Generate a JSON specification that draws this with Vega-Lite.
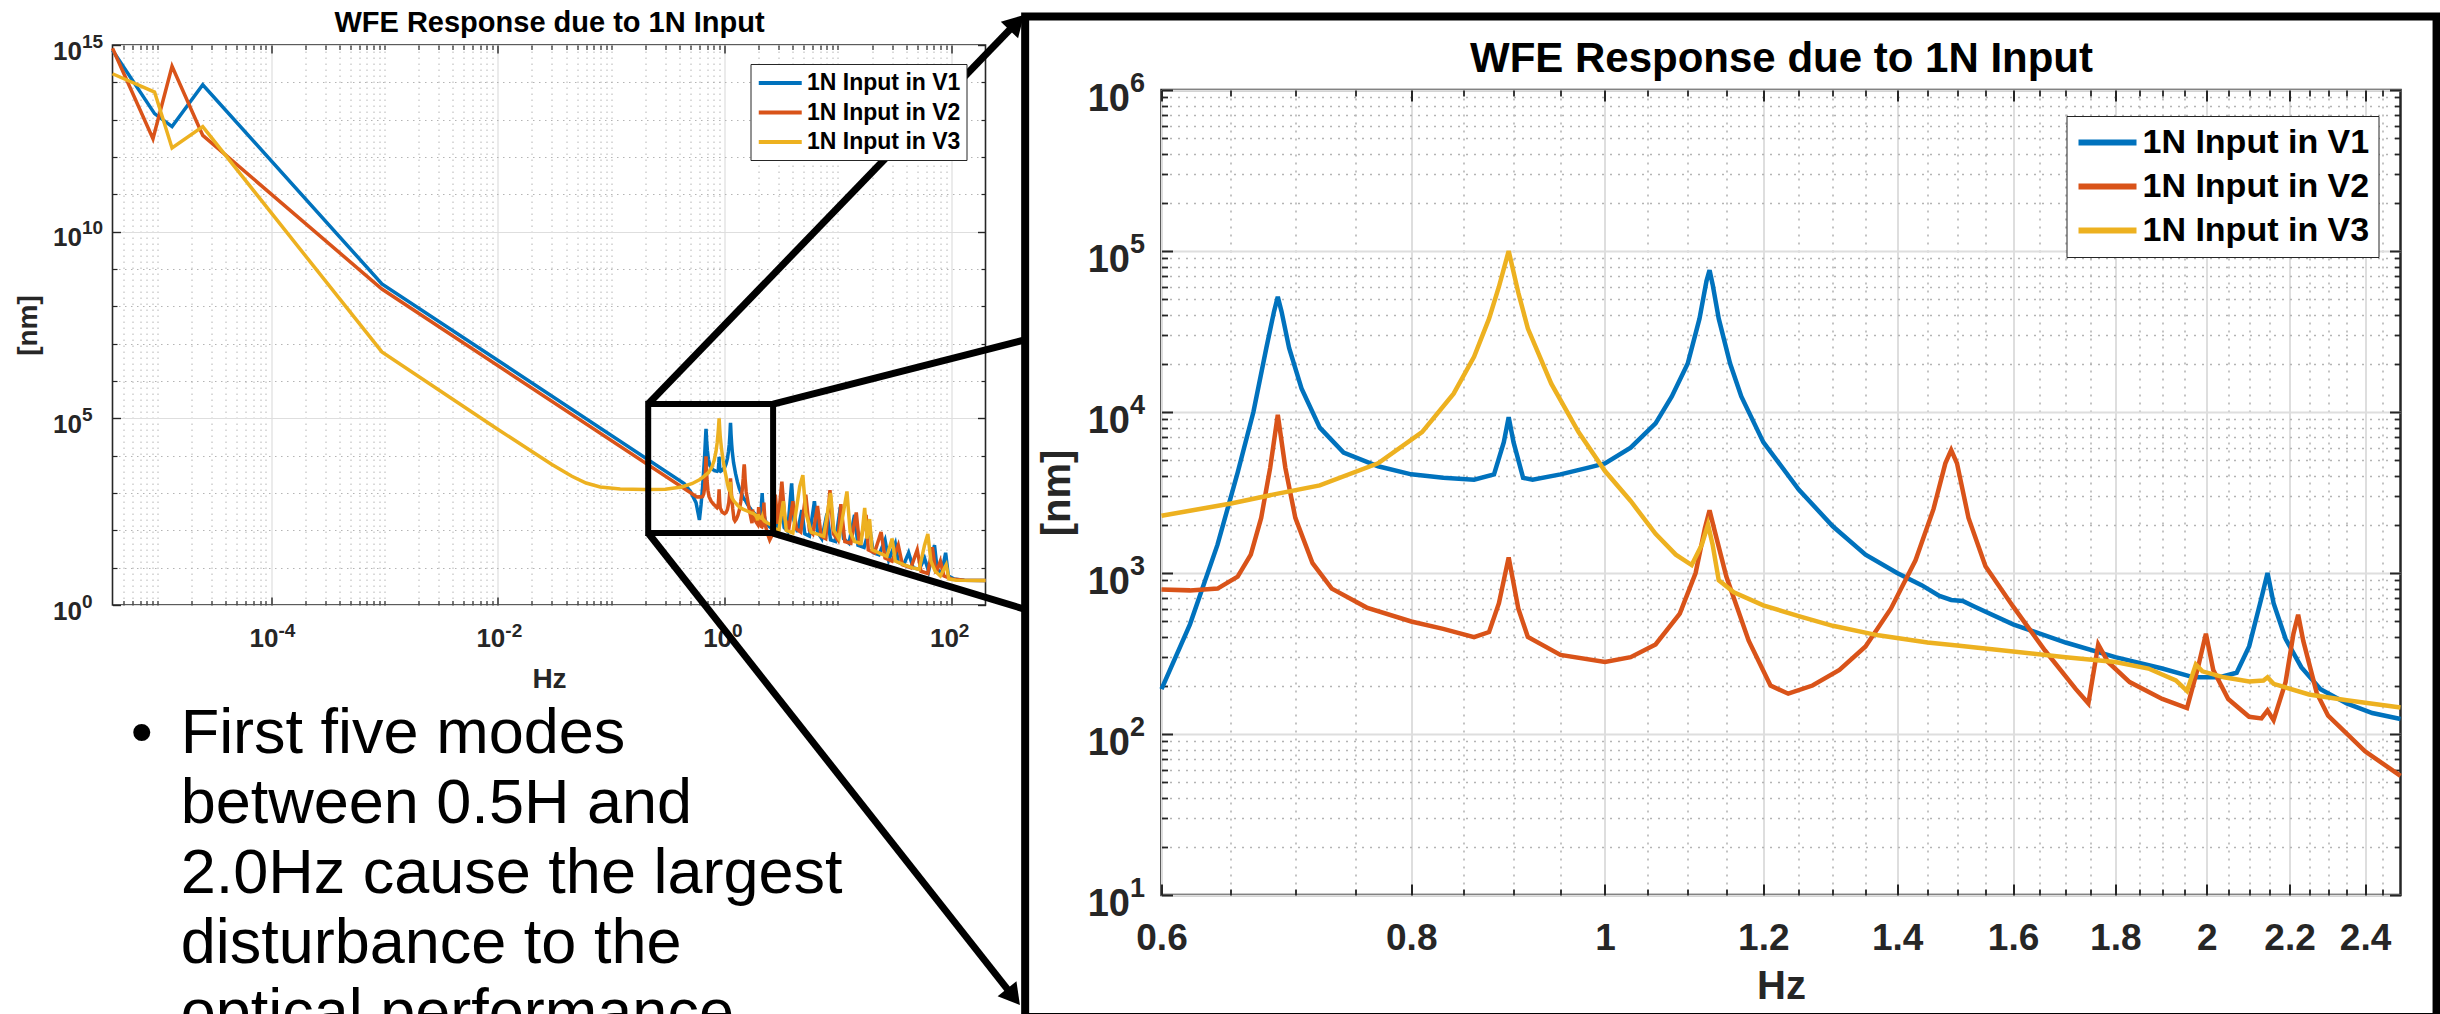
{
  "$schema": "https://vega.github.io/schema/vega-lite/v6.json",
  "background": "white",
  "padding": {"left": 12.5, "top": 7, "right": 0, "bottom": 0},
  "config": {
    "view": {"stroke": null},
    "font": "Liberation Sans",
    "axis": {
      "domain": false,
      "labelFont": "Liberation Sans",
      "titleFont": "Liberation Sans",
      "labelFontWeight": "bold",
      "titleFontWeight": "bold",
      "labelColor": "#262626",
      "titleColor": "#262626",
      "tickColor": "#262626",
      "labelFlush": false,
      "labelOverlap": false,
      "labelBound": false
    },
    "legend": {
      "labelFont": "Liberation Sans",
      "labelFontWeight": "bold",
      "labelColor": "black",
      "labelLimit": 400,
      "fillColor": "white",
      "orient": "none",
      "symbolType": "M-1,0L3,0"
    }
  },
  "datasets": {
    "spectrum": [
      {"s":"V1","hz":4e-6,"nm":7.2e14},
      {"s":"V1","hz":9.4e-6,"nm":1.45e13},
      {"s":"V1","hz":1.34e-5,"nm":6.5e12},
      {"s":"V1","hz":2.5e-5,"nm":8.6e13},
      {"s":"V1","hz":9.5e-4,"nm":4e8},
      {"s":"V1","hz":0.44,"nm":1800},
      {"s":"V1","hz":0.5,"nm":1100},
      {"s":"V1","hz":0.56,"nm":550},
      {"s":"V1","hz":0.6,"nm":190},
      {"s":"V1","hz":0.62,"nm":480},
      {"s":"V1","hz":0.64,"nm":1500},
      {"s":"V1","hz":0.655,"nm":4200},
      {"s":"V1","hz":0.667,"nm":10000},
      {"s":"V1","hz":0.677,"nm":25000},
      {"s":"V1","hz":0.683,"nm":42000},
      {"s":"V1","hz":0.686,"nm":52000},
      {"s":"V1","hz":0.689,"nm":42000},
      {"s":"V1","hz":0.695,"nm":25000},
      {"s":"V1","hz":0.705,"nm":14000},
      {"s":"V1","hz":0.72,"nm":8000},
      {"s":"V1","hz":0.74,"nm":5600},
      {"s":"V1","hz":0.77,"nm":4600},
      {"s":"V1","hz":0.8,"nm":4100},
      {"s":"V1","hz":0.83,"nm":3900},
      {"s":"V1","hz":0.86,"nm":3800},
      {"s":"V1","hz":0.88,"nm":4100},
      {"s":"V1","hz":0.89,"nm":6500},
      {"s":"V1","hz":0.895,"nm":9300},
      {"s":"V1","hz":0.9,"nm":6500},
      {"s":"V1","hz":0.91,"nm":3900},
      {"s":"V1","hz":0.92,"nm":3800},
      {"s":"V1","hz":0.95,"nm":4100},
      {"s":"V1","hz":0.98,"nm":4500},
      {"s":"V1","hz":1.0,"nm":4800},
      {"s":"V1","hz":1.03,"nm":6000},
      {"s":"V1","hz":1.06,"nm":8500},
      {"s":"V1","hz":1.08,"nm":12500},
      {"s":"V1","hz":1.1,"nm":20000},
      {"s":"V1","hz":1.115,"nm":38000},
      {"s":"V1","hz":1.124,"nm":65000},
      {"s":"V1","hz":1.128,"nm":76000},
      {"s":"V1","hz":1.132,"nm":62000},
      {"s":"V1","hz":1.14,"nm":38000},
      {"s":"V1","hz":1.155,"nm":20000},
      {"s":"V1","hz":1.17,"nm":12500},
      {"s":"V1","hz":1.2,"nm":6500},
      {"s":"V1","hz":1.25,"nm":3300},
      {"s":"V1","hz":1.3,"nm":1950},
      {"s":"V1","hz":1.35,"nm":1300},
      {"s":"V1","hz":1.4,"nm":1000},
      {"s":"V1","hz":1.44,"nm":840},
      {"s":"V1","hz":1.47,"nm":720},
      {"s":"V1","hz":1.49,"nm":680},
      {"s":"V1","hz":1.51,"nm":670},
      {"s":"V1","hz":1.53,"nm":620},
      {"s":"V1","hz":1.6,"nm":480},
      {"s":"V1","hz":1.7,"nm":370},
      {"s":"V1","hz":1.8,"nm":300},
      {"s":"V1","hz":1.9,"nm":255},
      {"s":"V1","hz":1.97,"nm":225},
      {"s":"V1","hz":2.03,"nm":225},
      {"s":"V1","hz":2.07,"nm":240},
      {"s":"V1","hz":2.1,"nm":350},
      {"s":"V1","hz":2.13,"nm":700},
      {"s":"V1","hz":2.145,"nm":1000},
      {"s":"V1","hz":2.16,"nm":650},
      {"s":"V1","hz":2.19,"nm":390},
      {"s":"V1","hz":2.23,"nm":260},
      {"s":"V1","hz":2.28,"nm":190},
      {"s":"V1","hz":2.35,"nm":155},
      {"s":"V1","hz":2.42,"nm":135},
      {"s":"V1","hz":2.5,"nm":124},
      {"s":"V1","hz":2.6,"nm":140},
      {"s":"V1","hz":2.75,"nm":420},
      {"s":"V1","hz":2.85,"nm":150},
      {"s":"V1","hz":3.0,"nm":110},
      {"s":"V1","hz":3.2,"nm":480},
      {"s":"V1","hz":3.35,"nm":120},
      {"s":"V1","hz":3.6,"nm":95},
      {"s":"V1","hz":3.9,"nm":1800},
      {"s":"V1","hz":4.1,"nm":180},
      {"s":"V1","hz":4.4,"nm":90},
      {"s":"V1","hz":4.8,"nm":350},
      {"s":"V1","hz":5.1,"nm":80},
      {"s":"V1","hz":5.6,"nm":70},
      {"s":"V1","hz":6.2,"nm":600},
      {"s":"V1","hz":6.6,"nm":90},
      {"s":"V1","hz":7.2,"nm":60},
      {"s":"V1","hz":8.0,"nm":280},
      {"s":"V1","hz":8.6,"nm":55},
      {"s":"V1","hz":9.5,"nm":50},
      {"s":"V1","hz":10.5,"nm":420},
      {"s":"V1","hz":11.2,"nm":60},
      {"s":"V1","hz":12.5,"nm":45},
      {"s":"V1","hz":14,"nm":260},
      {"s":"V1","hz":15,"nm":40},
      {"s":"V1","hz":17,"nm":35},
      {"s":"V1","hz":19,"nm":120},
      {"s":"V1","hz":20.5,"nm":25},
      {"s":"V1","hz":23,"nm":22},
      {"s":"V1","hz":26,"nm":55},
      {"s":"V1","hz":28,"nm":16},
      {"s":"V1","hz":32,"nm":45},
      {"s":"V1","hz":34,"nm":14},
      {"s":"V1","hz":38,"nm":12},
      {"s":"V1","hz":42,"nm":25},
      {"s":"V1","hz":46,"nm":10},
      {"s":"V1","hz":52,"nm":9},
      {"s":"V1","hz":58,"nm":18},
      {"s":"V1","hz":63,"nm":8},
      {"s":"V1","hz":71,"nm":40},
      {"s":"V1","hz":75,"nm":9},
      {"s":"V1","hz":82,"nm":7},
      {"s":"V1","hz":89,"nm":25},
      {"s":"V1","hz":94,"nm":6},
      {"s":"V1","hz":105,"nm":5},
      {"s":"V1","hz":130,"nm":4.6},
      {"s":"V1","hz":200,"nm":4.5},

      {"s":"V2","hz":4e-6,"nm":8.2e14},
      {"s":"V2","hz":9.1e-6,"nm":3.1e12},
      {"s":"V2","hz":1.34e-5,"nm":2.7e14},
      {"s":"V2","hz":2.5e-5,"nm":3.8e12},
      {"s":"V2","hz":9.5e-4,"nm":2.9e8},
      {"s":"V2","hz":0.57,"nm":780},
      {"s":"V2","hz":0.6,"nm":790},
      {"s":"V2","hz":0.62,"nm":780},
      {"s":"V2","hz":0.64,"nm":800},
      {"s":"V2","hz":0.655,"nm":950},
      {"s":"V2","hz":0.665,"nm":1300},
      {"s":"V2","hz":0.673,"nm":2200},
      {"s":"V2","hz":0.68,"nm":4500},
      {"s":"V2","hz":0.686,"nm":9600},
      {"s":"V2","hz":0.692,"nm":4500},
      {"s":"V2","hz":0.7,"nm":2200},
      {"s":"V2","hz":0.714,"nm":1150},
      {"s":"V2","hz":0.73,"nm":800},
      {"s":"V2","hz":0.76,"nm":610},
      {"s":"V2","hz":0.8,"nm":500},
      {"s":"V2","hz":0.83,"nm":450},
      {"s":"V2","hz":0.86,"nm":400},
      {"s":"V2","hz":0.875,"nm":430},
      {"s":"V2","hz":0.885,"nm":650},
      {"s":"V2","hz":0.895,"nm":1250},
      {"s":"V2","hz":0.905,"nm":600},
      {"s":"V2","hz":0.915,"nm":400},
      {"s":"V2","hz":0.95,"nm":310},
      {"s":"V2","hz":1.0,"nm":280},
      {"s":"V2","hz":1.03,"nm":300},
      {"s":"V2","hz":1.06,"nm":360},
      {"s":"V2","hz":1.09,"nm":560},
      {"s":"V2","hz":1.11,"nm":1000},
      {"s":"V2","hz":1.122,"nm":1900},
      {"s":"V2","hz":1.128,"nm":2450},
      {"s":"V2","hz":1.135,"nm":1800},
      {"s":"V2","hz":1.15,"nm":950},
      {"s":"V2","hz":1.18,"nm":380},
      {"s":"V2","hz":1.21,"nm":200},
      {"s":"V2","hz":1.235,"nm":178},
      {"s":"V2","hz":1.27,"nm":200},
      {"s":"V2","hz":1.31,"nm":250},
      {"s":"V2","hz":1.35,"nm":350},
      {"s":"V2","hz":1.39,"nm":600},
      {"s":"V2","hz":1.43,"nm":1200},
      {"s":"V2","hz":1.46,"nm":2500},
      {"s":"V2","hz":1.48,"nm":4800},
      {"s":"V2","hz":1.49,"nm":5800},
      {"s":"V2","hz":1.5,"nm":4800},
      {"s":"V2","hz":1.52,"nm":2200},
      {"s":"V2","hz":1.55,"nm":1100},
      {"s":"V2","hz":1.6,"nm":620},
      {"s":"V2","hz":1.66,"nm":330},
      {"s":"V2","hz":1.72,"nm":190},
      {"s":"V2","hz":1.745,"nm":155},
      {"s":"V2","hz":1.765,"nm":360},
      {"s":"V2","hz":1.785,"nm":280},
      {"s":"V2","hz":1.83,"nm":210},
      {"s":"V2","hz":1.9,"nm":165},
      {"s":"V2","hz":1.955,"nm":145},
      {"s":"V2","hz":1.98,"nm":260},
      {"s":"V2","hz":1.998,"nm":420},
      {"s":"V2","hz":2.015,"nm":250},
      {"s":"V2","hz":2.05,"nm":165},
      {"s":"V2","hz":2.1,"nm":128},
      {"s":"V2","hz":2.13,"nm":125},
      {"s":"V2","hz":2.145,"nm":140},
      {"s":"V2","hz":2.16,"nm":122},
      {"s":"V2","hz":2.19,"nm":210},
      {"s":"V2","hz":2.21,"nm":420},
      {"s":"V2","hz":2.222,"nm":550},
      {"s":"V2","hz":2.235,"nm":380},
      {"s":"V2","hz":2.27,"nm":180},
      {"s":"V2","hz":2.3,"nm":130},
      {"s":"V2","hz":2.4,"nm":78},
      {"s":"V2","hz":2.5,"nm":55},
      {"s":"V2","hz":2.6,"nm":70},
      {"s":"V2","hz":2.8,"nm":900},
      {"s":"V2","hz":2.95,"nm":150},
      {"s":"V2","hz":3.2,"nm":2000},
      {"s":"V2","hz":3.4,"nm":200},
      {"s":"V2","hz":3.7,"nm":120},
      {"s":"V2","hz":4.0,"nm":600},
      {"s":"V2","hz":4.3,"nm":110},
      {"s":"V2","hz":4.7,"nm":90},
      {"s":"V2","hz":5.2,"nm":900},
      {"s":"V2","hz":5.6,"nm":100},
      {"s":"V2","hz":6.0,"nm":80},
      {"s":"V2","hz":6.6,"nm":450},
      {"s":"V2","hz":7.1,"nm":70},
      {"s":"V2","hz":7.8,"nm":60},
      {"s":"V2","hz":8.5,"nm":1200},
      {"s":"V2","hz":9.1,"nm":80},
      {"s":"V2","hz":10,"nm":55},
      {"s":"V2","hz":10.6,"nm":500},
      {"s":"V2","hz":11.5,"nm":50},
      {"s":"V2","hz":13,"nm":45},
      {"s":"V2","hz":14.5,"nm":300},
      {"s":"V2","hz":15.5,"nm":40},
      {"s":"V2","hz":17.7,"nm":260},
      {"s":"V2","hz":18.5,"nm":30},
      {"s":"V2","hz":21,"nm":25},
      {"s":"V2","hz":24,"nm":90},
      {"s":"V2","hz":26,"nm":18},
      {"s":"V2","hz":30,"nm":15},
      {"s":"V2","hz":34,"nm":40},
      {"s":"V2","hz":37,"nm":12},
      {"s":"V2","hz":44,"nm":10},
      {"s":"V2","hz":50,"nm":30},
      {"s":"V2","hz":54,"nm":8},
      {"s":"V2","hz":62,"nm":7},
      {"s":"V2","hz":68,"nm":35},
      {"s":"V2","hz":73,"nm":7},
      {"s":"V2","hz":80,"nm":15},
      {"s":"V2","hz":86,"nm":6},
      {"s":"V2","hz":100,"nm":5},
      {"s":"V2","hz":130,"nm":4.6},
      {"s":"V2","hz":200,"nm":4.5},

      {"s":"V3","hz":4e-6,"nm":1.7e14},
      {"s":"V3","hz":9.4e-6,"nm":5.5e13},
      {"s":"V3","hz":1.34e-5,"nm":1.74e12},
      {"s":"V3","hz":2.5e-5,"nm":6.5e12},
      {"s":"V3","hz":9.5e-4,"nm":6e6},
      {"s":"V3","hz":0.0096,"nm":55000},
      {"s":"V3","hz":0.02,"nm":13000},
      {"s":"V3","hz":0.03,"nm":5800},
      {"s":"V3","hz":0.045,"nm":2800},
      {"s":"V3","hz":0.06,"nm":1850},
      {"s":"V3","hz":0.08,"nm":1450},
      {"s":"V3","hz":0.12,"nm":1280},
      {"s":"V3","hz":0.2,"nm":1240},
      {"s":"V3","hz":0.3,"nm":1260},
      {"s":"V3","hz":0.42,"nm":1450},
      {"s":"V3","hz":0.52,"nm":1800},
      {"s":"V3","hz":0.6,"nm":2270},
      {"s":"V3","hz":0.65,"nm":2700},
      {"s":"V3","hz":0.685,"nm":3100},
      {"s":"V3","hz":0.72,"nm":3500},
      {"s":"V3","hz":0.77,"nm":4800},
      {"s":"V3","hz":0.81,"nm":7500},
      {"s":"V3","hz":0.84,"nm":13000},
      {"s":"V3","hz":0.86,"nm":22000},
      {"s":"V3","hz":0.875,"nm":38000},
      {"s":"V3","hz":0.885,"nm":60000},
      {"s":"V3","hz":0.895,"nm":100000},
      {"s":"V3","hz":0.905,"nm":55000},
      {"s":"V3","hz":0.915,"nm":33000},
      {"s":"V3","hz":0.94,"nm":15000},
      {"s":"V3","hz":0.97,"nm":7500},
      {"s":"V3","hz":1.0,"nm":4300},
      {"s":"V3","hz":1.03,"nm":2800},
      {"s":"V3","hz":1.06,"nm":1750},
      {"s":"V3","hz":1.085,"nm":1300},
      {"s":"V3","hz":1.105,"nm":1120},
      {"s":"V3","hz":1.118,"nm":1500},
      {"s":"V3","hz":1.126,"nm":2000},
      {"s":"V3","hz":1.132,"nm":1500},
      {"s":"V3","hz":1.14,"nm":900},
      {"s":"V3","hz":1.16,"nm":760},
      {"s":"V3","hz":1.2,"nm":630},
      {"s":"V3","hz":1.25,"nm":540},
      {"s":"V3","hz":1.3,"nm":470},
      {"s":"V3","hz":1.37,"nm":410},
      {"s":"V3","hz":1.45,"nm":370},
      {"s":"V3","hz":1.5,"nm":355},
      {"s":"V3","hz":1.6,"nm":325},
      {"s":"V3","hz":1.7,"nm":300},
      {"s":"V3","hz":1.8,"nm":280},
      {"s":"V3","hz":1.87,"nm":255},
      {"s":"V3","hz":1.93,"nm":215},
      {"s":"V3","hz":1.955,"nm":185},
      {"s":"V3","hz":1.975,"nm":270},
      {"s":"V3","hz":1.99,"nm":245},
      {"s":"V3","hz":2.04,"nm":225},
      {"s":"V3","hz":2.1,"nm":212},
      {"s":"V3","hz":2.135,"nm":215},
      {"s":"V3","hz":2.145,"nm":225},
      {"s":"V3","hz":2.16,"nm":205},
      {"s":"V3","hz":2.25,"nm":176},
      {"s":"V3","hz":2.35,"nm":162},
      {"s":"V3","hz":2.5,"nm":146},
      {"s":"V3","hz":2.6,"nm":140},
      {"s":"V3","hz":2.8,"nm":110},
      {"s":"V3","hz":3.0,"nm":95},
      {"s":"V3","hz":3.3,"nm":600},
      {"s":"V3","hz":3.5,"nm":100},
      {"s":"V3","hz":4.0,"nm":85},
      {"s":"V3","hz":4.6,"nm":1500},
      {"s":"V3","hz":4.9,"nm":3000},
      {"s":"V3","hz":5.2,"nm":300},
      {"s":"V3","hz":5.8,"nm":90},
      {"s":"V3","hz":6.5,"nm":80},
      {"s":"V3","hz":7.5,"nm":70},
      {"s":"V3","hz":8.6,"nm":1000},
      {"s":"V3","hz":9.2,"nm":100},
      {"s":"V3","hz":10.2,"nm":60},
      {"s":"V3","hz":12,"nm":1100},
      {"s":"V3","hz":12.8,"nm":90},
      {"s":"V3","hz":14,"nm":50},
      {"s":"V3","hz":16,"nm":45},
      {"s":"V3","hz":17.2,"nm":400},
      {"s":"V3","hz":18,"nm":60},
      {"s":"V3","hz":19,"nm":200},
      {"s":"V3","hz":20,"nm":30},
      {"s":"V3","hz":23,"nm":25},
      {"s":"V3","hz":27,"nm":20},
      {"s":"V3","hz":30,"nm":60},
      {"s":"V3","hz":32,"nm":15},
      {"s":"V3","hz":38,"nm":12},
      {"s":"V3","hz":45,"nm":10},
      {"s":"V3","hz":52,"nm":9},
      {"s":"V3","hz":58,"nm":40},
      {"s":"V3","hz":62,"nm":80},
      {"s":"V3","hz":66,"nm":15},
      {"s":"V3","hz":72,"nm":8},
      {"s":"V3","hz":80,"nm":6},
      {"s":"V3","hz":90,"nm":12},
      {"s":"V3","hz":95,"nm":5},
      {"s":"V3","hz":110,"nm":4.6},
      {"s":"V3","hz":200,"nm":4.5}
    ],
    "links": [
      {"hz0":0.212,"nm0":241500,"hz1":376.5,"nm1":4.0e15},
      {"hz0":2.678,"nm0":241500,"hz1":440,"nm1":1.253e7},
      {"hz0":2.678,"nm0":84.7,"hz1":440,"nm1":0.778},
      {"hz0":0.212,"nm0":84.7,"hz1":352.9,"nm1":3.18e-11}
    ],
    "zoomBox": [{"hz0":0.212,"hz1":2.678,"nm0":84.7,"nm1":241500}],
    "tipTop": [{"hz":376.5,"nm":4.0e15}],
    "tipBottom": [{"hz":352.9,"nm":3.18e-11}],
    "frame": [{"hz0":0.5128,"hz1":2.606,"nm0":1.747,"nm1":2861000}],
    "note": [
      {"hz":5.79e-6,"nm":1.081e-4,"text":"•"},
      {"hz":1.596e-5,"nm":1.081e-4,"text":["First five modes","between 0.5H and","2.0Hz cause the largest","disturbance to the","optical performance"]}
    ]
  },
  "resolve": {"scale": {"color": "independent"}, "legend": {"color": "independent"}},
  "bounds": "flush",
  "spacing": 176,
  "hconcat": [
    {
      "width": 873,
      "height": 560,
      "view": {"stroke": "#262626", "strokeWidth": 1.6},
      "resolve": {"axis": {"x": "independent", "y": "independent"}},
      "layer": [
        {
          "data": {"values": []},
          "mark": "point",
          "encoding": {
            "x": {"field": "hz", "type": "quantitative",
              "scale": {"type": "log", "domain": [4e-6, 200], "nice": false},
              "axis": {"orient": "bottom", "values": [5e-6,6e-6,7e-6,8e-6,9e-6,1e-5,2e-5,3e-5,4e-5,5e-5,6e-5,7e-5,8e-5,9e-5,2e-4,3e-4,4e-4,5e-4,6e-4,7e-4,8e-4,9e-4,1e-3,2e-3,3e-3,4e-3,5e-3,6e-3,7e-3,8e-3,9e-3,0.02,0.03,0.04,0.05,0.06,0.07,0.08,0.09,0.1,0.2,0.3,0.4,0.5,0.6,0.7,0.8,0.9,2,3,4,5,6,7,8,9,10,20,30,40,50,60,70,80,90],
                "labels": false, "ticks": true, "tickSize": -4.5, "tickWidth": 1.2,
                "grid": true, "gridColor": "#b4b4b4", "gridDash": [1.5, 4.5], "gridWidth": 1, "title": null}},
            "y": {"field": "nm", "type": "quantitative",
              "scale": {"type": "log", "domain": [1, 1e15], "nice": false},
              "axis": {"orient": "left", "values": [10,100,1000,10000,1e6,1e7,1e8,1e9,1e11,1e12,1e13,1e14],
                "labels": false, "ticks": true, "tickSize": -4.5, "tickWidth": 1.2,
                "grid": true, "gridColor": "#b4b4b4", "gridDash": [1.5, 4.5], "gridWidth": 1, "title": null}}
          }
        },
        {
          "data": {"values": []},
          "mark": "point",
          "encoding": {
            "x": {"field": "hz", "type": "quantitative",
              "scale": {"type": "log", "domain": [4e-6, 200], "nice": false},
              "axis": {"orient": "top", "values": [5e-6,6e-6,7e-6,8e-6,9e-6,1e-5,2e-5,3e-5,4e-5,5e-5,6e-5,7e-5,8e-5,9e-5,2e-4,3e-4,4e-4,5e-4,6e-4,7e-4,8e-4,9e-4,1e-3,2e-3,3e-3,4e-3,5e-3,6e-3,7e-3,8e-3,9e-3,0.02,0.03,0.04,0.05,0.06,0.07,0.08,0.09,0.1,0.2,0.3,0.4,0.5,0.6,0.7,0.8,0.9,2,3,4,5,6,7,8,9,10,20,30,40,50,60,70,80,90],
                "labels": false, "ticks": true, "tickSize": -4.5, "tickWidth": 1.2, "grid": false, "title": null}},
            "y": {"field": "nm", "type": "quantitative",
              "scale": {"type": "log", "domain": [1, 1e15], "nice": false},
              "axis": {"orient": "right", "values": [10,100,1000,10000,1e6,1e7,1e8,1e9,1e11,1e12,1e13,1e14],
                "labels": false, "ticks": true, "tickSize": -4.5, "tickWidth": 1.2, "grid": false, "title": null}}
          }
        },
        {
          "data": {"values": []},
          "mark": "point",
          "encoding": {
            "x": {"field": "hz", "type": "quantitative",
              "scale": {"type": "log", "domain": [4e-6, 200], "nice": false},
              "axis": {"orient": "top", "values": [1e-4, 0.01, 1, 100],
                "labels": false, "ticks": true, "tickSize": -8, "tickWidth": 1.4, "grid": false,
                "title": "WFE Response due to 1N Input", "titleFontSize": 29, "titleColor": "black",
                "titleX": 436.5, "titleY": -14, "titleBaseline": "alphabetic", "titleAlign": "center", "titleAngle": 0}},
            "y": {"field": "nm", "type": "quantitative",
              "scale": {"type": "log", "domain": [1, 1e15], "nice": false},
              "axis": {"orient": "right", "values": [1, 1e5, 1e10, 1e15],
                "labels": false, "ticks": true, "tickSize": -8, "tickWidth": 1.4, "grid": false, "title": null}}
          }
        },
        {
          "data": {"values": []},
          "mark": "point",
          "encoding": {
            "x": {"field": "hz", "type": "quantitative",
              "scale": {"type": "log", "domain": [4e-6, 200], "nice": false},
              "axis": {"orient": "bottom", "values": [1e-4, 0.01, 1, 100],
                "labels": false, "ticks": true, "tickSize": -8, "tickWidth": 1.4,
                "grid": true, "gridColor": "#dedede", "gridWidth": 1.2, "title": null}},
            "y": {"field": "nm", "type": "quantitative",
              "scale": {"type": "log", "domain": [1, 1e15], "nice": false},
              "axis": {"orient": "left", "values": [1, 1e5, 1e10, 1e15],
                "labels": false, "ticks": true, "tickSize": -8, "tickWidth": 1.4,
                "grid": true, "gridColor": "#dedede", "gridWidth": 1.2, "title": null}}
          }
        },
        {
          "data": {"values": []},
          "mark": "point",
          "encoding": {
            "x": {"field": "hz", "type": "quantitative",
              "scale": {"type": "log", "domain": [4e-6, 200], "nice": false},
              "axis": {"orient": "bottom", "values": [1e-4, 0.01, 1, 100],
                "labelExpr": "datum.value < 0.001 ? '-4' : datum.value < 0.1 ? '-2' : datum.value < 10 ? '0' : '2'",
                "labelFontSize": 19, "labelPadding": 31, "labelBaseline": "alphabetic", "labelAlign": "left", "labelOffset": 7,
                "ticks": false, "tickSize": 0, "grid": false, "title": null}},
            "y": {"field": "nm", "type": "quantitative",
              "scale": {"type": "log", "domain": [1, 1e15], "nice": false},
              "axis": {"orient": "left", "values": [1, 1e5, 1e10, 1e15],
                "labelExpr": "datum.value > 1e12 ? '15' : datum.value > 1e7 ? '10' : datum.value > 100 ? '5' : '0'",
                "labelFontSize": 19, "labelPadding": 31, "labelAlign": "left", "labelBaseline": "alphabetic", "labelOffset": 2,
                "ticks": false, "tickSize": 0, "grid": false, "title": null}}
          }
        },
        {
          "data": {"name": "spectrum"},
          "mark": {"type": "line", "strokeWidth": 3.5},
          "encoding": {
            "x": {"field": "hz", "type": "quantitative",
              "scale": {"type": "log", "domain": [4e-6, 200], "nice": false},
              "axis": {"orient": "bottom", "values": [1e-4, 0.01, 1, 100],
                "labelExpr": "'10'",
                "labelFontSize": 26, "labelPadding": 41, "labelBaseline": "alphabetic", "labelAlign": "right", "labelOffset": 7,
                "ticks": false, "tickSize": 0, "grid": false,
                "title": "Hz", "titleFontSize": 28, "titleX": 436.5, "titleY": 82, "titleBaseline": "alphabetic", "titleAlign": "center"}},
            "y": {"field": "nm", "type": "quantitative",
              "scale": {"type": "log", "domain": [1, 1e15], "nice": false},
              "axis": {"orient": "left", "values": [1, 1e5, 1e10, 1e15],
                "labelExpr": "'10'",
                "labelFontSize": 26, "labelPadding": 31, "labelAlign": "right", "labelBaseline": "alphabetic", "labelOffset": 14,
                "ticks": false, "tickSize": 0, "grid": false,
                "title": "[nm]", "titleFontSize": 28, "titleX": -84.5, "titleY": 280, "titleAngle": -90, "titleBaseline": "middle", "titleAlign": "center"}},
            "color": {"field": "s", "type": "nominal",
              "scale": {"domain": ["V1", "V2", "V3"], "range": ["#0072BD", "#D95319", "#EDB120"]},
              "legend": {"title": null, "legendX": 638, "legendY": 19, "padding": 6, "rowPadding": 4.5, "labelOffset": 24.5,
                "symbolSize": 462, "symbolStrokeWidth": 4, "labelFontSize": 23,
                "strokeColor": "#262626",
                "labelExpr": "'1N Input in ' + datum.label"}}
          }
        },
        {
          "data": {"name": "zoomBox"},
          "mark": {"type": "rect", "filled": false, "stroke": "black", "strokeWidth": 6},
          "encoding": {
            "x": {"field": "hz0", "type": "quantitative", "scale": {"type": "log", "domain": [4e-6, 200], "nice": false}, "axis": null},
            "x2": {"field": "hz1"},
            "y": {"field": "nm0", "type": "quantitative", "scale": {"type": "log", "domain": [1, 1e15], "nice": false}, "axis": null},
            "y2": {"field": "nm1"}
          }
        },
        {
          "data": {"name": "links"},
          "mark": {"type": "rule", "color": "black", "strokeWidth": 7, "strokeCap": "butt"},
          "encoding": {
            "x": {"field": "hz0", "type": "quantitative", "scale": {"type": "log", "domain": [4e-6, 200], "nice": false}, "axis": null},
            "x2": {"field": "hz1"},
            "y": {"field": "nm0", "type": "quantitative", "scale": {"type": "log", "domain": [1, 1e15], "nice": false}, "axis": null},
            "y2": {"field": "nm1"}
          }
        },
        {
          "data": {"name": "tipTop"},
          "mark": {"type": "point", "shape": "triangle-up", "filled": true, "color": "black", "opacity": 1, "size": 576, "angle": 44},
          "encoding": {
            "x": {"field": "hz", "type": "quantitative", "scale": {"type": "log", "domain": [4e-6, 200], "nice": false}, "axis": null},
            "y": {"field": "nm", "type": "quantitative", "scale": {"type": "log", "domain": [1, 1e15], "nice": false}, "axis": null}
          }
        },
        {
          "data": {"name": "tipBottom"},
          "mark": {"type": "point", "shape": "triangle-up", "filled": true, "color": "black", "opacity": 1, "size": 576, "angle": 141.7},
          "encoding": {
            "x": {"field": "hz", "type": "quantitative", "scale": {"type": "log", "domain": [4e-6, 200], "nice": false}, "axis": null},
            "y": {"field": "nm", "type": "quantitative", "scale": {"type": "log", "domain": [1, 1e15], "nice": false}, "axis": null}
          }
        },
        {
          "data": {"name": "note"},
          "mark": {"type": "text", "align": "left", "baseline": "alphabetic", "font": "Liberation Sans", "fontSize": 63, "lineHeight": 70, "color": "black"},
          "encoding": {
            "x": {"field": "hz", "type": "quantitative", "scale": {"type": "log", "domain": [4e-6, 200], "nice": false}, "axis": null},
            "y": {"field": "nm", "type": "quantitative", "scale": {"type": "log", "domain": [1, 1e15], "nice": false}, "axis": null},
            "text": {"field": "text", "type": "nominal"}
          }
        }
      ]
    },
    {
      "bounds": "flush",
      "spacing": 0,
      "vconcat": [
        {"width": 1239, "height": 45, "data": {"values": []}, "mark": "point"},
        {
          "width": 1239,
          "height": 805,
          "view": {"stroke": "#262626", "strokeWidth": 2.5},
          "resolve": {"axis": {"x": "independent", "y": "independent"}},
          "layer": [
            {
              "data": {"values": []},
              "mark": "point",
              "encoding": {
                "x": {"field": "hz", "type": "quantitative",
                  "scale": {"type": "log", "domain": [0.6, 2.5], "nice": false},
                  "axis": {"orient": "bottom", "values": [0.65,0.7,0.75,0.85,0.9,0.95,1.05,1.1,1.15,1.25,1.3,1.35,1.45,1.5,1.55,1.65,1.7,1.75,1.85,1.9,1.95,2.05,2.1,2.15,2.25,2.3,2.35,2.45],
                    "labels": false, "ticks": true, "tickSize": -6, "tickWidth": 1.8,
                    "grid": true, "gridColor": "#b4b4b4", "gridDash": [2, 6], "gridWidth": 1.6, "title": null}},
                "y": {"field": "nm", "type": "quantitative",
                  "scale": {"type": "log", "domain": [10, 1000000], "nice": false},
                  "axis": {"orient": "left", "values": [20,30,40,50,60,70,80,90,200,300,400,500,600,700,800,900,2000,3000,4000,5000,6000,7000,8000,9000,20000,30000,40000,50000,60000,70000,80000,90000,200000,300000,400000,500000,600000,700000,800000,900000],
                    "labels": false, "ticks": true, "tickSize": -6, "tickWidth": 1.8,
                    "grid": true, "gridColor": "#b4b4b4", "gridDash": [2, 6], "gridWidth": 1.6, "title": null}}
              }
            },
            {
              "data": {"values": []},
              "mark": "point",
              "encoding": {
                "x": {"field": "hz", "type": "quantitative",
                  "scale": {"type": "log", "domain": [0.6, 2.5], "nice": false},
                  "axis": {"orient": "top", "values": [0.65,0.7,0.75,0.85,0.9,0.95,1.05,1.1,1.15,1.25,1.3,1.35,1.45,1.5,1.55,1.65,1.7,1.75,1.85,1.9,1.95,2.05,2.1,2.15,2.25,2.3,2.35,2.45],
                    "labels": false, "ticks": true, "tickSize": -6, "tickWidth": 1.8, "grid": false, "title": null}},
                "y": {"field": "nm", "type": "quantitative",
                  "scale": {"type": "log", "domain": [10, 1000000], "nice": false},
                  "axis": {"orient": "right", "values": [20,30,40,50,60,70,80,90,200,300,400,500,600,700,800,900,2000,3000,4000,5000,6000,7000,8000,9000,20000,30000,40000,50000,60000,70000,80000,90000,200000,300000,400000,500000,600000,700000,800000,900000],
                    "labels": false, "ticks": true, "tickSize": -6, "tickWidth": 1.8, "grid": false, "title": null}}
              }
            },
            {
              "data": {"values": []},
              "mark": "point",
              "encoding": {
                "x": {"field": "hz", "type": "quantitative",
                  "scale": {"type": "log", "domain": [0.6, 2.5], "nice": false},
                  "axis": {"orient": "top", "values": [0.6,0.8,1,1.2,1.4,1.6,1.8,2,2.2,2.4],
                    "labels": false, "ticks": true, "tickSize": -11, "tickWidth": 2, "grid": false,
                    "title": "WFE Response due to 1N Input", "titleFontSize": 42, "titleColor": "black",
                    "titleX": 619.5, "titleY": -19, "titleBaseline": "alphabetic", "titleAlign": "center", "titleAngle": 0}},
                "y": {"field": "nm", "type": "quantitative",
                  "scale": {"type": "log", "domain": [10, 1000000], "nice": false},
                  "axis": {"orient": "right", "values": [10,100,1000,10000,100000,1000000],
                    "labels": false, "ticks": true, "tickSize": -11, "tickWidth": 2, "grid": false, "title": null}}
              }
            },
            {
              "data": {"values": []},
              "mark": "point",
              "encoding": {
                "x": {"field": "hz", "type": "quantitative",
                  "scale": {"type": "log", "domain": [0.6, 2.5], "nice": false},
                  "axis": {"orient": "bottom", "values": [0.6,0.8,1,1.2,1.4,1.6,1.8,2,2.2,2.4],
                    "labels": false, "ticks": true, "tickSize": -11, "tickWidth": 2,
                    "grid": true, "gridColor": "#dedede", "gridWidth": 2, "title": null}},
                "y": {"field": "nm", "type": "quantitative",
                  "scale": {"type": "log", "domain": [10, 1000000], "nice": false},
                  "axis": {"orient": "left", "values": [10,100,1000,10000,100000,1000000],
                    "labels": false, "ticks": true, "tickSize": -11, "tickWidth": 2,
                    "grid": true, "gridColor": "#dedede", "gridWidth": 2, "title": null}}
              }
            },
            {
              "data": {"values": []},
              "mark": "point",
              "encoding": {
                "x": {"field": "hz", "type": "quantitative",
                  "scale": {"type": "log", "domain": [0.6, 2.5], "nice": false}, "axis": null},
                "y": {"field": "nm", "type": "quantitative",
                  "scale": {"type": "log", "domain": [10, 1000000], "nice": false},
                  "axis": {"orient": "left", "values": [10,100,1000,10000,100000,1000000],
                    "labelExpr": "datum.value < 50 ? '1' : datum.value < 500 ? '2' : datum.value < 5000 ? '3' : datum.value < 50000 ? '4' : datum.value < 500000 ? '5' : '6'",
                    "labelFontSize": 27, "labelPadding": 32, "labelAlign": "left", "labelBaseline": "alphabetic", "labelOffset": 1,
                    "ticks": false, "tickSize": 0, "grid": false, "title": null}}
              }
            },
            {
              "data": {"name": "spectrum"},
              "transform": [{"filter": "datum.hz >= 0.6 && datum.hz <= 2.5"}],
              "mark": {"type": "line", "strokeWidth": 4.5},
              "encoding": {
                "x": {"field": "hz", "type": "quantitative",
                  "scale": {"type": "log", "domain": [0.6, 2.5], "nice": false},
                  "axis": {"orient": "bottom", "values": [0.6,0.8,1,1.2,1.4,1.6,1.8,2,2.2,2.4],
                    "labelExpr": "format(datum.value, '~g')",
                    "labelFontSize": 37, "labelPadding": 54, "labelBaseline": "alphabetic", "labelAlign": "center",
                    "ticks": false, "tickSize": 0, "grid": false,
                    "title": "Hz", "titleFontSize": 40, "titleX": 619.5, "titleY": 103, "titleBaseline": "alphabetic", "titleAlign": "center"}},
                "y": {"field": "nm", "type": "quantitative",
                  "scale": {"type": "log", "domain": [10, 1000000], "nice": false},
                  "axis": {"orient": "left", "values": [10,100,1000,10000,100000,1000000],
                    "labelExpr": "'10'",
                    "labelFontSize": 38, "labelPadding": 32, "labelAlign": "right", "labelBaseline": "alphabetic", "labelOffset": 20,
                    "ticks": false, "tickSize": 0, "grid": false,
                    "title": "[nm]", "titleFontSize": 40, "titleX": -104.5, "titleY": 402.5, "titleAngle": -90, "titleBaseline": "middle", "titleAlign": "center"}},
                "color": {"field": "s", "type": "nominal",
                  "scale": {"domain": ["V1", "V2", "V3"], "range": ["#0072BD", "#D95319", "#EDB120"]},
                  "legend": {"title": null, "legendX": 905, "legendY": 71, "padding": 9, "rowPadding": 9, "labelOffset": 32,
                    "symbolSize": 841, "symbolStrokeWidth": 6, "labelFontSize": 34,
                    "strokeColor": "#262626",
                    "labelExpr": "'1N Input in ' + datum.label"}}
              }
            },
            {
              "data": {"name": "frame"},
              "mark": {"type": "rect", "filled": false, "stroke": "black", "strokeWidth": 8},
              "encoding": {
                "x": {"field": "hz0", "type": "quantitative", "scale": {"type": "log", "domain": [0.6, 2.5], "nice": false}, "axis": null},
                "x2": {"field": "hz1"},
                "y": {"field": "nm0", "type": "quantitative", "scale": {"type": "log", "domain": [10, 1000000], "nice": false}, "axis": null},
                "y2": {"field": "nm1"}
              }
            }
          ]
        }
      ]
    }
  ]
}
